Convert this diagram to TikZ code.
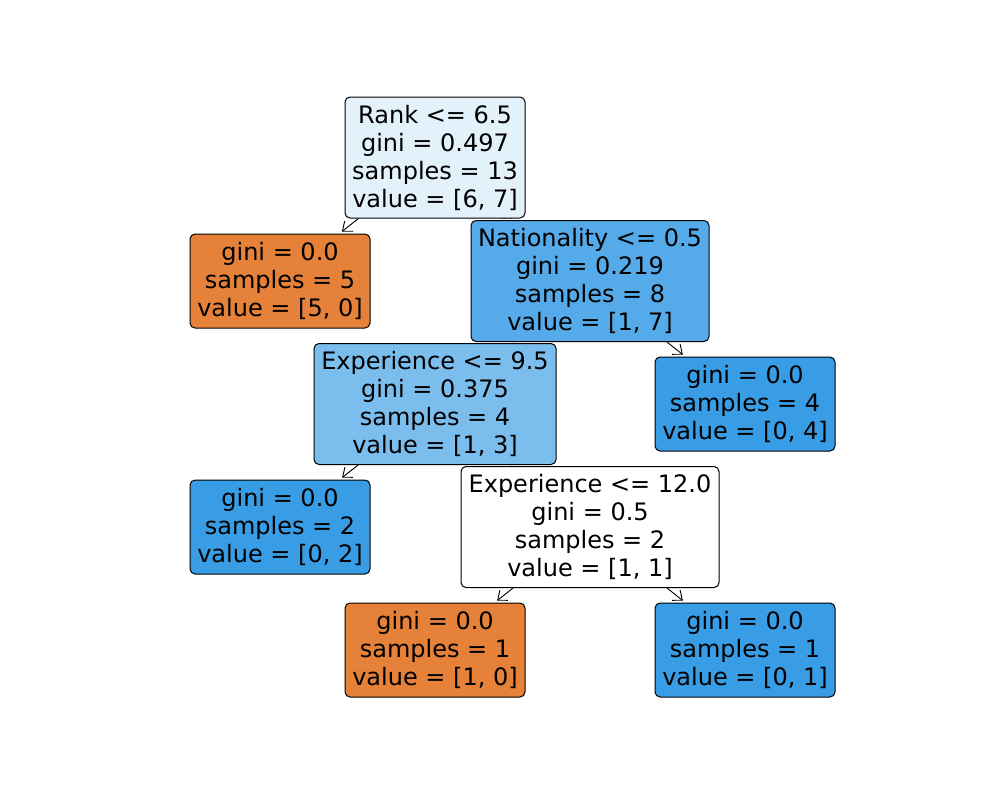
\documentclass[tikz,border=0pt]{standalone}
\usepackage{fontspec}
\setmainfont{DejaVu Sans}
\usetikzlibrary{arrows.meta}
\pgfdeclarelayer{background}
\pgfsetlayers{background,main}
\definecolor{cRoot}{HTML}{E3F1FB}
\definecolor{cOrange}{HTML}{E58139}
\definecolor{cBlue}{HTML}{399DE5}
\definecolor{cNat}{HTML}{55ABE9}
\definecolor{cExp}{HTML}{7BBEEE}
\tikzset{
  treebox/.style={draw=black, line width=1pt, rounded corners=5pt, inner sep=0pt,
    align=center, font=\fontsize{24}{28}\selectfont},
  leafbox/.style={treebox, minimum width=180pt, minimum height=94pt},
  splitbox/.style={treebox, minimum height=121pt},
  edge/.style={draw=black, line width=0.9pt, -{Straight Barb[length=8pt,width=13pt]}, shorten >=3pt}
}
\begin{document}
\begin{tikzpicture}[x=1pt,y=-1pt]
\useasboundingbox (0,0) rectangle (1000,800);
\node[splitbox, fill=cRoot, minimum width=180pt] (root) at (435,157.5) {Rank <= 6.5\\gini = 0.497\\samples = 13\\value = [6, 7]};
\node[leafbox, fill=cOrange] (l1) at (280,281) {gini = 0.0\\samples = 5\\value = [5, 0]};
\node[splitbox, fill=cNat, minimum width=238pt] (nat) at (590,281) {Nationality <= 0.5\\gini = 0.219\\samples = 8\\value = [1, 7]};
\node[splitbox, fill=cExp, minimum width=242pt] (exa) at (435,404) {Experience <= 9.5\\gini = 0.375\\samples = 4\\value = [1, 3]};
\node[leafbox, fill=cBlue] (l4) at (745,404) {gini = 0.0\\samples = 4\\value = [0, 4]};
\node[leafbox, fill=cBlue] (l2) at (280,527) {gini = 0.0\\samples = 2\\value = [0, 2]};
\node[splitbox, fill=white, minimum width=258pt] (exb) at (590,527) {Experience <= 12.0\\gini = 0.5\\samples = 2\\value = [1, 1]};
\node[leafbox, fill=cOrange] (l10) at (435,650) {gini = 0.0\\samples = 1\\value = [1, 0]};
\node[leafbox, fill=cBlue] (l01) at (745,650) {gini = 0.0\\samples = 1\\value = [0, 1]};
\begin{pgfonlayer}{background}
\fill[white] (0,0) rectangle (1000,800);
\draw[edge] (root) -- (l1);
\draw[edge] (root) -- (nat);
\draw[edge] (nat) -- (exa);
\draw[edge] (nat) -- (l4);
\draw[edge] (exa) -- (l2);
\draw[edge] (exa) -- (exb);
\draw[edge] (exb) -- (l10);
\draw[edge] (exb) -- (l01);
\end{pgfonlayer}
\end{tikzpicture}
\end{document}
